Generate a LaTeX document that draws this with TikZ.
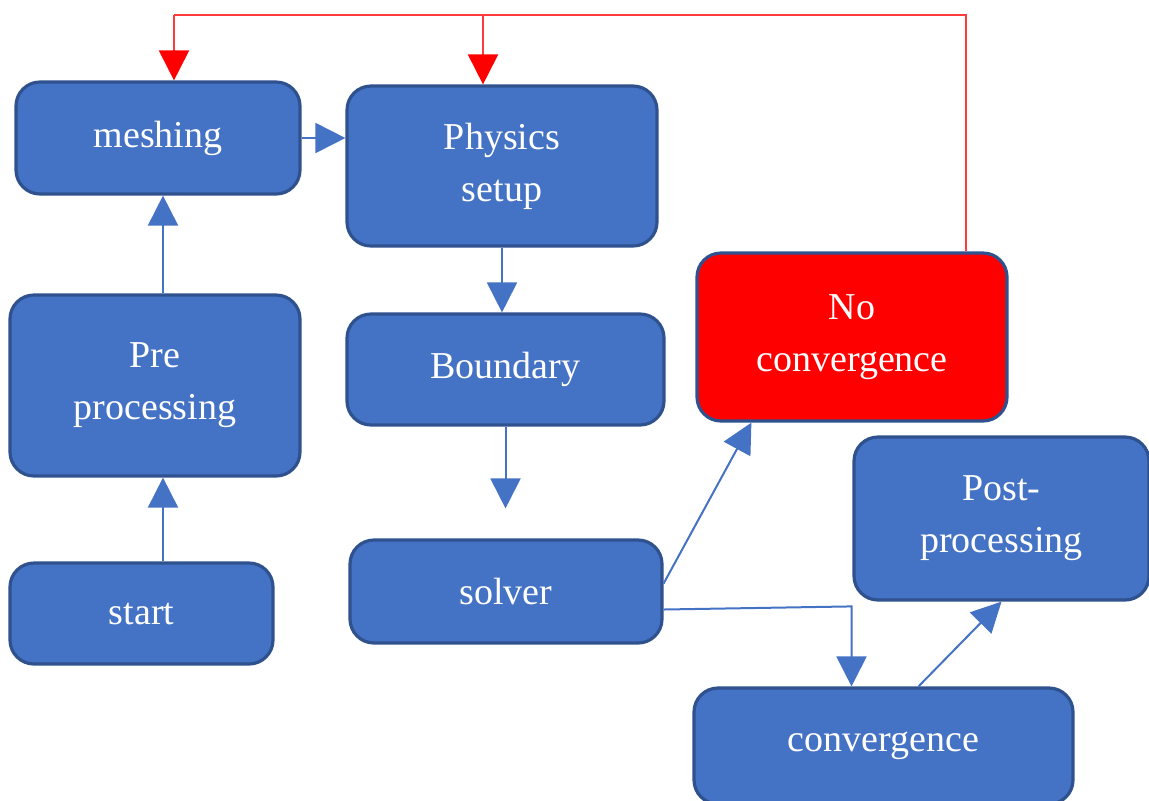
\documentclass[tikz,border=0pt]{standalone}
\usepackage{fontspec}
\setmainfont{Liberation Serif}
\usetikzlibrary{arrows.meta,calc}
\definecolor{boxblue}{HTML}{4472C4}
\definecolor{boxedge}{HTML}{2F528F}
\definecolor{linered}{HTML}{FF3B3B}
\tikzset{
  box/.style={draw=boxedge, line width=1.6pt, fill=boxblue, rounded corners=12pt,
    text=white, align=center, inner sep=0pt,
    font=\fontsize{19}{26}\selectfont},
  redbox/.style={box, fill=red},
  arr/.style={draw=boxblue, line width=1pt, -{Triangle[length=15pt,width=15pt]}},
  redline/.style={draw=linered, line width=1pt},
  redarr/.style={draw=linered, line width=1pt, -{Triangle[length=15pt,width=15pt,fill=red,color=red]}}
}
\begin{document}
\begin{tikzpicture}[x=0.5pt,y=-0.5pt]
\useasboundingbox (0,0) rectangle (1149,800);
\node[box, minimum width=142pt, minimum height=56pt] (mesh) at (158,138) {meshing};
\node[box, minimum width=155pt, minimum height=80pt] (phys) at (502,166) {Physics\\setup};
\node[box, minimum width=145pt, minimum height=90.5pt] (pre) at (155,385.5) {Pre\\processing};
\node[box, minimum width=131.5pt, minimum height=50.5pt] (start) at (141.5,613.5) {start};
\node[box, minimum width=158.5pt, minimum height=55.5pt] (bound) at (505.5,369.5) {Boundary};
\node[box, minimum width=156pt, minimum height=51.5pt] (solver) at (506,591.5) {solver};
\node[redbox, minimum width=155pt, minimum height=84pt] (nocon) at (852,337) {No\\convergence};
\node[box, minimum width=147.5pt, minimum height=81.5pt] (post) at (1001.5,518.5) {Post-\\processing};
\node[box, minimum width=189.5pt, minimum height=58pt] (conv) at (883.5,746) {convergence};

\coordinate (vx) at (163,0);
\draw[arr] (mesh.east) -- (mesh.east -| phys.west);
\draw[arr] (pre.north -| vx) -- (mesh.south -| vx);
\draw[arr] (start.north -| vx) -- (pre.south -| vx);
\draw[arr] (phys.south) -- (phys.south |- bound.north);
\draw[arr, shorten >=15pt] (bound.south) -- (bound.south |- solver.north);
\draw[arr] ($(solver.east)+(0,-8)$) -- ($(nocon.south west)+(56,0)$);
\draw[arr] ($(solver.east)+(0,18)$) -- ($(conv.north)+(-32,-80)$) -- ($(conv.north)+(-32,0)$);
\draw[arr] ($(conv.north)+(35,0)$) -- (post.south);

\coordinate (topL) at (174,15);
\coordinate (topM) at (483,15);
\coordinate (topR) at (966,15);
\draw[redline] (nocon.north -| topR) -- (topR) -- (topL);
\draw[redarr] (topL) -- (topL |- mesh.north);
\draw[redarr] (topM) -- (topM |- phys.north);
\end{tikzpicture}
\end{document}
